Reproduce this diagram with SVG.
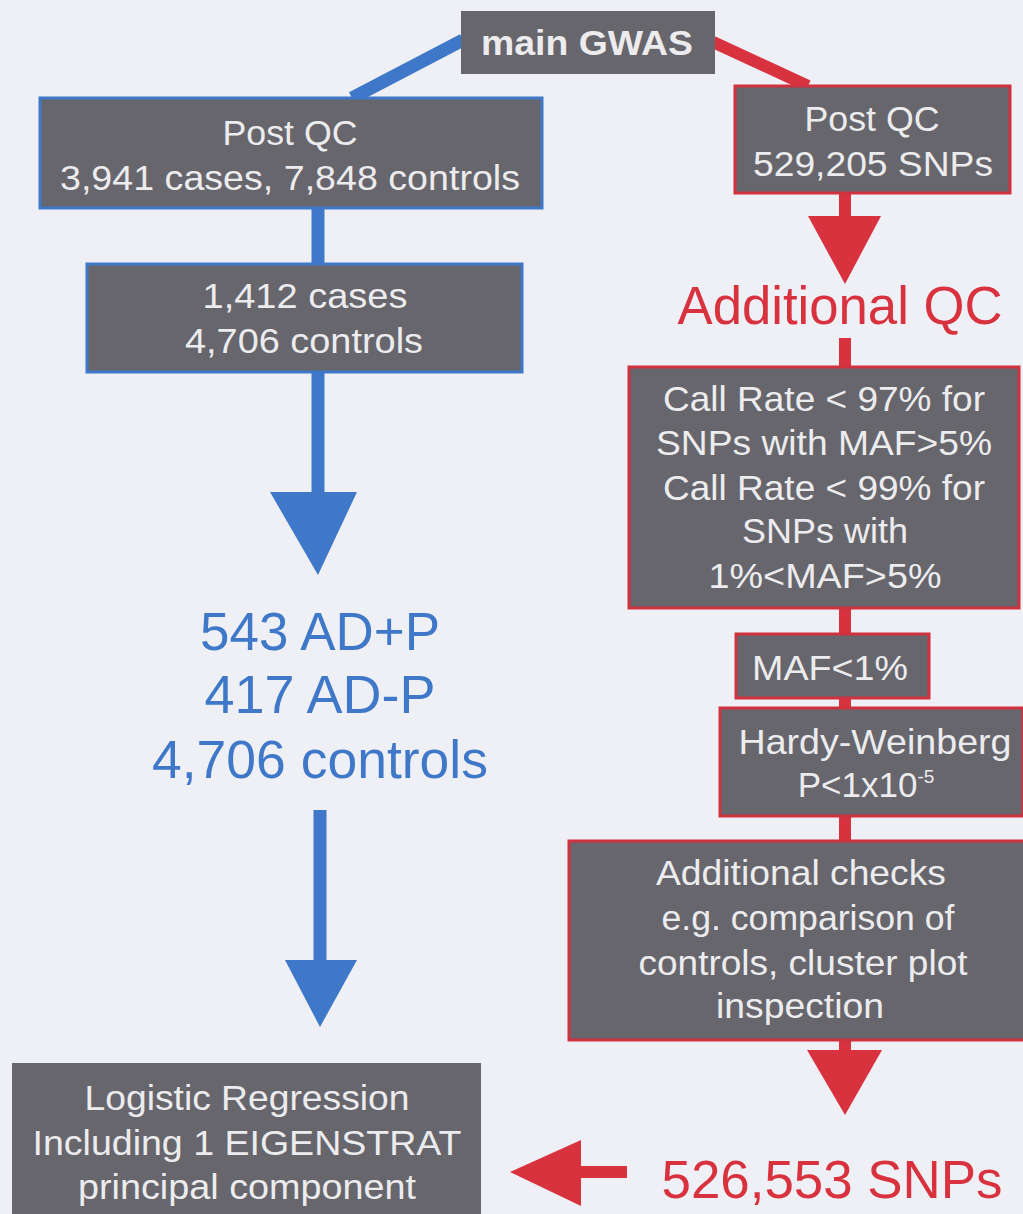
<svg xmlns="http://www.w3.org/2000/svg" width="1023" height="1214" viewBox="0 0 1023 1214">
<style>
.bg{fill:#eef0f5}
.box{fill:#67666d;stroke-width:3}
.bb{stroke:#3f78c9}
.rb{stroke:#d0313f}
.t{font-family:"Liberation Sans",Arial,sans-serif;fill:#ececee;text-anchor:middle;font-size:35px}
.big{font-family:"Liberation Sans",Arial,sans-serif;text-anchor:middle;font-size:54px}
.blue{fill:#3f78c9}
.red{fill:#d9323f}
.bl{stroke:#3f78c9;stroke-width:13;fill:none}
.rl{stroke:#d9323f;stroke-width:12;fill:none}
</style>
<rect class="bg" x="0" y="0" width="1023" height="1214"/>
<g id="connectors">
<line class="bl" x1="463" y1="40" x2="352" y2="98"/>
<line class="rl" x1="713" y1="42" x2="808" y2="86"/>
<line class="bl" x1="318" y1="208" x2="318" y2="265"/>
<line class="bl" x1="318" y1="372" x2="318" y2="495"/>
<polygon class="blue" points="270,492 357,492 318,575"/>
<line class="bl" x1="320" y1="810" x2="320" y2="962"/>
<polygon class="blue" points="285,960 357,960 320,1027"/>
<line class="rl" x1="845" y1="193" x2="845" y2="220"/>
<polygon class="red" points="808,216 881,216 845,284"/>
<line class="rl" x1="845" y1="338" x2="845" y2="368"/>
<line class="rl" x1="845" y1="608" x2="845" y2="634"/>
<line class="rl" x1="845" y1="698" x2="845" y2="708"/>
<line class="rl" x1="845" y1="816" x2="845" y2="841"/>
<line class="rl" x1="845" y1="1040" x2="845" y2="1054"/>
<polygon class="red" points="807,1050 882,1050 845,1115"/>
<line class="rl" x1="575" y1="1172" x2="627" y2="1172"/>
<polygon class="red" points="510,1172 581,1140 581,1206"/>
</g>
<g id="main-gwas">
<rect class="box" x="461" y="11" width="254" height="63" style="stroke:none"/>
<text class="t" x="587" y="55" font-weight="bold" textLength="212" lengthAdjust="spacingAndGlyphs">main GWAS</text>
</g>
<g id="left-postqc">
<rect class="box bb" x="40" y="98" width="502" height="110"/>
<text class="t" x="290" y="145" textLength="135" lengthAdjust="spacingAndGlyphs">Post QC</text>
<text class="t" x="290" y="190" textLength="460" lengthAdjust="spacingAndGlyphs">3,941 cases, 7,848 controls</text>
</g>
<g id="cases-controls">
<rect class="box bb" x="87" y="264" width="435" height="108"/>
<text class="t" x="305" y="308" textLength="205" lengthAdjust="spacingAndGlyphs">1,412 cases</text>
<text class="t" x="304" y="353" textLength="238" lengthAdjust="spacingAndGlyphs">4,706 controls</text>
</g>
<g id="subgroups">
<text class="big blue" x="320" y="650" textLength="240" lengthAdjust="spacingAndGlyphs">543 AD+P</text>
<text class="big blue" x="320" y="713" textLength="231" lengthAdjust="spacingAndGlyphs">417 AD-P</text>
<text class="big blue" x="320" y="778" textLength="336" lengthAdjust="spacingAndGlyphs">4,706 controls</text>
</g>
<g id="logistic">
<rect class="box" x="12" y="1063" width="469" height="160" style="stroke:none"/>
<text class="t" x="247" y="1110" textLength="325" lengthAdjust="spacingAndGlyphs">Logistic Regression</text>
<text class="t" x="247" y="1155" textLength="429" lengthAdjust="spacingAndGlyphs">Including 1 EIGENSTRAT</text>
<text class="t" x="247" y="1199" textLength="338" lengthAdjust="spacingAndGlyphs">principal component</text>
</g>
<g id="right-postqc">
<rect class="box rb" x="735" y="86" width="275" height="107"/>
<text class="t" x="872" y="131" textLength="135" lengthAdjust="spacingAndGlyphs">Post QC</text>
<text class="t" x="873" y="176" textLength="240" lengthAdjust="spacingAndGlyphs">529,205 SNPs</text>
</g>
<g id="additional-qc">
<text class="big red" x="840" y="324" textLength="325" lengthAdjust="spacingAndGlyphs">Additional QC</text>
</g>
<g id="call-rate">
<rect class="box rb" x="629" y="367" width="390" height="241"/>
<text class="t" x="824" y="411" textLength="322" lengthAdjust="spacingAndGlyphs">Call Rate &lt; 97% for</text>
<text class="t" x="824" y="455" textLength="336" lengthAdjust="spacingAndGlyphs">SNPs with MAF&gt;5%</text>
<text class="t" x="824" y="500" textLength="322" lengthAdjust="spacingAndGlyphs">Call Rate &lt; 99% for</text>
<text class="t" x="825" y="543" textLength="166" lengthAdjust="spacingAndGlyphs">SNPs with</text>
<text class="t" x="825" y="588" textLength="233" lengthAdjust="spacingAndGlyphs">1%&lt;MAF&gt;5%</text>
</g>
<g id="maf">
<rect class="box rb" x="736" y="634" width="193" height="64"/>
<text class="t" x="830" y="680" textLength="156" lengthAdjust="spacingAndGlyphs">MAF&lt;1%</text>
</g>
<g id="hwe">
<rect class="box rb" x="720" y="708" width="303" height="108"/>
<text class="t" x="875" y="754" textLength="273" lengthAdjust="spacingAndGlyphs">Hardy-Weinberg</text>
<text class="t" x="866" y="797">P&lt;1x10<tspan font-size="19" dy="-14">-5</tspan></text>
</g>
<g id="additional-checks">
<rect class="box rb" x="569" y="841" width="456" height="199"/>
<text class="t" x="801" y="885" textLength="290" lengthAdjust="spacingAndGlyphs">Additional checks</text>
<text class="t" x="808" y="930" textLength="293" lengthAdjust="spacingAndGlyphs">e.g. comparison of</text>
<text class="t" x="803" y="975" textLength="329" lengthAdjust="spacingAndGlyphs">controls, cluster plot</text>
<text class="t" x="800" y="1018" textLength="168" lengthAdjust="spacingAndGlyphs">inspection</text>
</g>
<g id="final-snps">
<text class="big red" x="832" y="1198" textLength="341" lengthAdjust="spacingAndGlyphs">526,553 SNPs</text>
</g>
</svg>
